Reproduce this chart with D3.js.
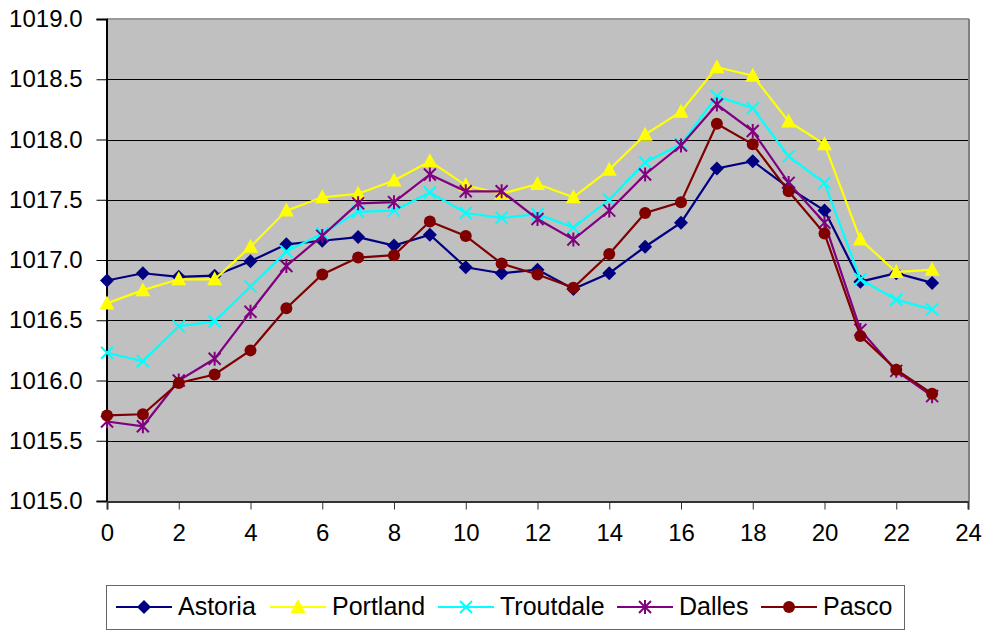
<html>
<head>
<script src="https://d3js.org/d3.v7.min.js"></script>
<style>
  body { margin: 0; background: #fff; }
  text { font-family: "Liberation Sans", Arial, sans-serif; fill: #000; }
</style>
</head>
<body>
<svg width="987" height="631"></svg>
<script>
var hours = d3.range(24);
var astoria   = [1016.83,1016.89,1016.86,1016.87,1016.99,1017.13,1017.16,1017.19,1017.12,1017.21,1016.94,1016.89,1016.92,1016.76,1016.89,1017.11,1017.31,1017.76,1017.82,1017.60,1017.41,1016.82,1016.89,1016.81];
var portland  = [1016.64,1016.75,1016.84,1016.84,1017.11,1017.41,1017.52,1017.55,1017.66,1017.82,1017.62,1017.55,1017.63,1017.52,1017.75,1018.04,1018.23,1018.60,1018.53,1018.15,1017.96,1017.17,1016.90,1016.92];
var troutdale = [1016.23,1016.16,1016.45,1016.49,1016.78,1017.07,1017.22,1017.40,1017.41,1017.56,1017.39,1017.35,1017.38,1017.27,1017.50,1017.81,1017.96,1018.36,1018.26,1017.86,1017.64,1016.84,1016.67,1016.59];
var dalles    = [1015.66,1015.62,1016.00,1016.18,1016.57,1016.95,1017.20,1017.47,1017.48,1017.71,1017.57,1017.57,1017.34,1017.17,1017.41,1017.71,1017.95,1018.29,1018.07,1017.64,1017.31,1016.42,1016.08,1015.87];
var pasco     = [1015.71,1015.72,1015.98,1016.05,1016.25,1016.60,1016.88,1017.02,1017.04,1017.32,1017.20,1016.97,1016.88,1016.77,1017.05,1017.39,1017.48,1018.13,1017.96,1017.57,1017.22,1016.37,1016.09,1015.89];
var seriesNames = ["Astoria","Portland","Troutdale","Dalles","Pasco"];
var xTicks = d3.range(0, 25, 2);
var yTicks = d3.range(1015, 1019.01, 0.5);

var series = [
  {name:"Astoria",   values:astoria,   color:"#000080", marker:"diamond"},
  {name:"Portland",  values:portland,  color:"#ffff00", marker:"triangle"},
  {name:"Troutdale", values:troutdale, color:"#00ffff", marker:"x"},
  {name:"Dalles",    values:dalles,    color:"#800080", marker:"star"},
  {name:"Pasco",     values:pasco,     color:"#800000", marker:"circle"}
];

var svg = d3.select("svg");
var plotL = 107, plotR = 968, plotT = 19, plotB = 501;

var x = d3.scaleLinear().domain([0,24]).range([plotL,plotR]);
var y = d3.scaleLinear().domain([1015,1019]).range([plotB,plotT]);

// plot background
svg.append("rect").attr("x",plotL).attr("y",plotT).attr("width",plotR-plotL).attr("height",plotB-plotT)
  .attr("fill","#c0c0c0");

// grid lines
svg.append("g").selectAll("line").data(yTicks.slice(1)).enter().append("line")
  .attr("x1",plotL).attr("x2",plotR)
  .attr("y1",function(d){return Math.round(y(d))+0.5;}).attr("y2",function(d){return Math.round(y(d))+0.5;})
  .attr("stroke","#000").attr("stroke-width",1);

// top / right border
svg.append("line").attr("x1",plotL).attr("x2",plotR+1).attr("y1",plotT).attr("y2",plotT).attr("stroke","#999").attr("stroke-width",2);
svg.append("line").attr("x1",plotR+1).attr("x2",plotR+1).attr("y1",plotT).attr("y2",plotB).attr("stroke","#808080").attr("stroke-width",2);

// axes
var yAxis = d3.axisLeft(y).tickValues(yTicks).tickSize(10).tickPadding(14).tickFormat(d3.format(".1f"));
var gy = svg.append("g").attr("transform","translate("+(plotL-0.5)+",0)").call(yAxis);
gy.attr("font-size",24).attr("font-family","Liberation Sans, Arial, sans-serif");
gy.select(".domain").attr("stroke","#000").attr("stroke-width",2);
gy.selectAll(".tick line").attr("stroke","#000");

var xAxis = d3.axisBottom(x).tickValues(xTicks).tickSize(8).tickPadding(14);
var gx = svg.append("g").attr("transform","translate(0,"+(plotB+0.5)+")").call(xAxis);
gx.attr("font-size",24).attr("font-family","Liberation Sans, Arial, sans-serif");
gx.select(".domain").attr("stroke","#333").attr("stroke-width",2);
gx.selectAll(".tick line").attr("stroke","#333");

function drawMarker(g, type, color) {
  if (type === "diamond") {
    g.append("path").attr("d","M0,-7L7,0L0,7L-7,0Z").attr("fill",color);
  } else if (type === "triangle") {
    g.append("path").attr("d","M0,-8L7.5,6L-7.5,6Z").attr("fill",color);
  } else if (type === "x") {
    g.append("path").attr("d","M-6,-6L6,6M-6,6L6,-6").attr("stroke",color).attr("stroke-width",2).attr("fill","none");
  } else if (type === "star") {
    g.append("path").attr("d","M-6,-6L6,6M-6,6L6,-6M0,-7L0,7").attr("stroke",color).attr("stroke-width",2).attr("fill","none");
  } else {
    g.append("circle").attr("r",6).attr("fill",color);
  }
}

var line = d3.line().x(function(d,i){return x(hours[i]);}).y(function(d){return y(d);});

series.forEach(function(s){
  var g = svg.append("g");
  g.append("path").attr("d",line(s.values)).attr("fill","none").attr("stroke",s.color).attr("stroke-width",2.2);
  s.values.forEach(function(v,i){
    var m = g.append("g").attr("transform","translate("+x(hours[i])+","+y(v)+")");
    drawMarker(m, s.marker, s.color);
  });
});

// legend
var legend = svg.append("g");
legend.append("rect").attr("x",106.5).attr("y",585.5).attr("width",798).attr("height",44)
  .attr("fill","#fff").attr("stroke","#666").attr("stroke-width",1);
var legendX = [116, 270, 438, 617, 761];
series.forEach(function(s,i){
  var lx = legendX[i];
  legend.append("line").attr("x1",lx).attr("x2",lx+56).attr("y1",607).attr("y2",607)
    .attr("stroke",s.color).attr("stroke-width",2.2);
  var m = legend.append("g").attr("transform","translate("+(lx+28)+",607)");
  drawMarker(m, s.marker, s.color);
  legend.append("text").attr("x",lx+62).attr("y",615).attr("font-size","25px").text(seriesNames[i]);
});
</script>
</body>
</html>
